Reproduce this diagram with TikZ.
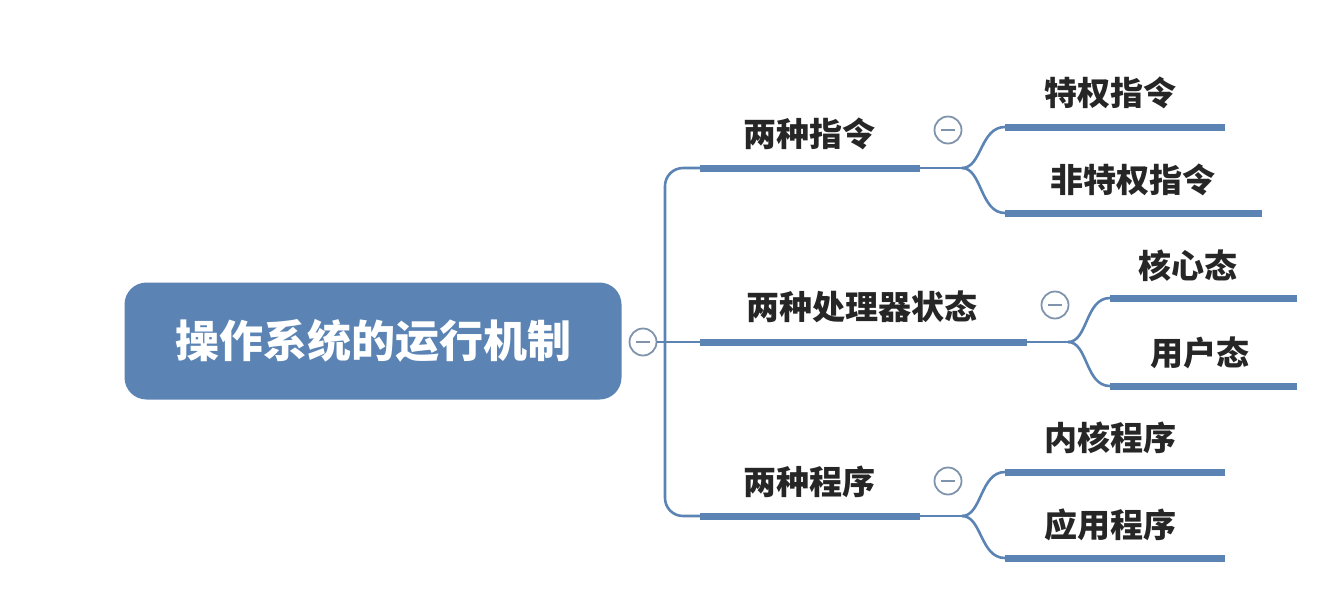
\documentclass[tikz,border=0pt]{standalone}
\usepackage{fontspec}
\setmainfont{Noto Sans CJK SC}
\definecolor{mapblue}{HTML}{5B84B5}
\definecolor{ringgray}{HTML}{7F93AD}
\tikzset{
  bar/.style={mapblue,line width=7pt},
  link/.style={mapblue,line width=2.6pt,rounded corners=18pt},
  lbl/.style={font=\fontsize{33}{33}\selectfont\bfseries,text=black!85},
  fold/.style={circle,draw=ringgray,line width=1.8pt,fill=white,minimum size=27pt,inner sep=0pt,
    path picture={\draw[ringgray,line width=1.8pt] ([xshift=-7pt]path picture bounding box.center) -- ([xshift=7pt]path picture bounding box.center);}}
}
\begin{document}
\begin{tikzpicture}[x=1pt,y=-1pt]
\useasboundingbox (0,0) rectangle (1340,606);
% root
\node[fill=mapblue,rounded corners=22pt,minimum width=497pt,minimum height=117pt,text=white,
  font=\fontsize{44}{44}\selectfont\bfseries] (root) at (373,341) {操作系统的运行机制};
\node[fold] (f0) at (643,342) {};
\coordinate (t1) at (700,168);
\coordinate (t2) at (700,342);
\coordinate (t3) at (700,516);
\draw[link] (f0.east) -- (t2);
\draw[link] (t1) -- (665,168) -- (665,516) -- (t3);
% branches
\draw[bar] (t1) -- (920,168) coordinate (e1);
\draw[bar] (t2) -- (1027,342) coordinate (e2);
\draw[bar] (t3) -- (920,516) coordinate (e3);
\node[lbl] (b1) at (809,134) {两种指令};
\node[lbl] (b2) at (862,307) {两种处理器状态};
\node[lbl] (b3) at (809,482) {两种程序};
\node[fold] (f1) at (948,130) {};
\node[fold] (f2) at (1055,305) {};
\node[fold] (f3) at (948,481) {};
% leaves
\draw[bar] (1005,127) coordinate (s11) -- (1225,127);
\draw[bar] (1005,213) coordinate (s12) -- (1262,213);
\draw[bar] (1110,298) coordinate (s21) -- (1297,298);
\draw[bar] (1110,386) coordinate (s22) -- (1297,386);
\draw[bar] (1005,472) coordinate (s31) -- (1225,472);
\draw[bar] (1005,558) coordinate (s32) -- (1225,558);
\node[lbl] (l11) at (1110,93) {特权指令};
\node[lbl] (l12) at (1133,180) {非特权指令};
\node[lbl] (l21) at (1188,266) {核心态};
\node[lbl] (l22) at (1200,353) {用户态};
\node[lbl] (l31) at (1110,438) {内核程序};
\node[lbl] (l32) at (1110,525) {应用程序};
% connectors
\foreach \e/\x/\a/\b in {e1/962/s11/s12, e2/1068/s21/s22, e3/962/s31/s32}{
  \draw[mapblue,line width=2.6pt] (\e) -- (\x,0 |- \e) coordinate (k);
  \draw[mapblue,line width=2.6pt] (k) .. controls ([xshift=20pt]k) and ([xshift=-25pt]\a) .. (\a);
  \draw[mapblue,line width=2.6pt] (k) .. controls ([xshift=20pt]k) and ([xshift=-25pt]\b) .. (\b);
}
\end{tikzpicture}
\end{document}
